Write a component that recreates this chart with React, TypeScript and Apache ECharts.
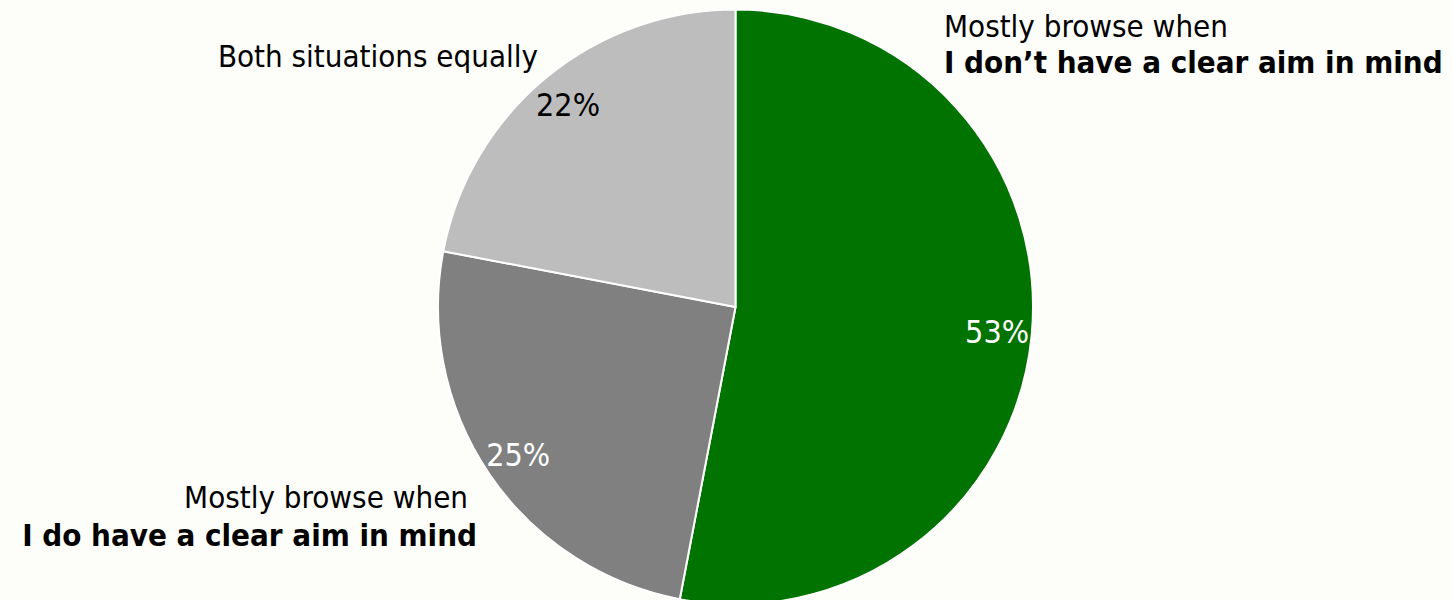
import React, { useEffect, useRef } from "react";
import * as echarts from "echarts";

const categories = [
  "Mostly browse when I don’t have a clear aim in mind",
  "Mostly browse when I do have a clear aim in mind",
  "Both situations equally",
];
const values = [53, 25, 22];
const colors = ["#007300", "#808080", "#bdbdbd"];
const labelLight = ["Mostly browse when", "Mostly browse when", "Both situations equally"];
const labelBold = ["I don’t have a clear aim in mind", "I do have a clear aim in mind", ""];

const FONT = "Tahoma, 'DejaVu Sans Condensed', 'DejaVu Sans', sans-serif";
const BG = "#fdfdf9";

export default function App() {
  const ref = useRef<HTMLDivElement>(null);
  useEffect(() => {
    document.body.style.margin = "0";
    const chart = echarts.init(ref.current!, undefined, { renderer: "svg" });
    const data = categories.map((c, i) => ({
      name: c,
      value: values[i],
      itemStyle: { color: colors[i] },
    }));
    const txt = (text: string, x: number, y: number, align: string, bold: boolean) => ({
      type: "text",
      x,
      y,
      style: {
        text,
        fill: "#000",
        font: `${bold ? "bold " : ""}31px ${FONT}`,
        align,
        verticalAlign: "middle",
      },
    });
    chart.setOption({
      animation: false,
      backgroundColor: BG,
      series: [
        {
          type: "pie",
          center: [735.5, 307],
          radius: [0, 297.5],
          startAngle: 90,
          clockwise: true,
          silent: true,
          label: { show: false },
          labelLine: { show: false },
          itemStyle: { borderColor: "#ffffff", borderWidth: 2 },
          data,
        },
        {
          type: "pie",
          center: [735.5, 307],
          radius: [222, 297.5],
          startAngle: 90,
          clockwise: true,
          silent: true,
          itemStyle: { color: "transparent" },
          labelLine: { show: false },
          label: {
            show: true,
            position: "inside",
            formatter: "{c}%",
            fontFamily: FONT,
            fontSize: 32,
            color: "#fff",
          },
          data: categories.map((c, i) => ({
            name: c,
            value: values[i],
            label: { color: i === 2 ? "#000" : "#fff" },
          })),
        },
      ],
      graphic: [
        txt(labelLight[0], 944, 26, "left", false),
        txt(labelBold[0], 944, 62, "left", true),
        txt(labelLight[1], 468, 497, "right", false),
        txt(labelBold[1], 477, 535, "right", true),
        txt(labelLight[2], 538, 55.5, "right", false),
      ],
    });
    return () => chart.dispose();
  }, []);
  return <div ref={ref} style={{ width: 1452, height: 600 }} />;
}
